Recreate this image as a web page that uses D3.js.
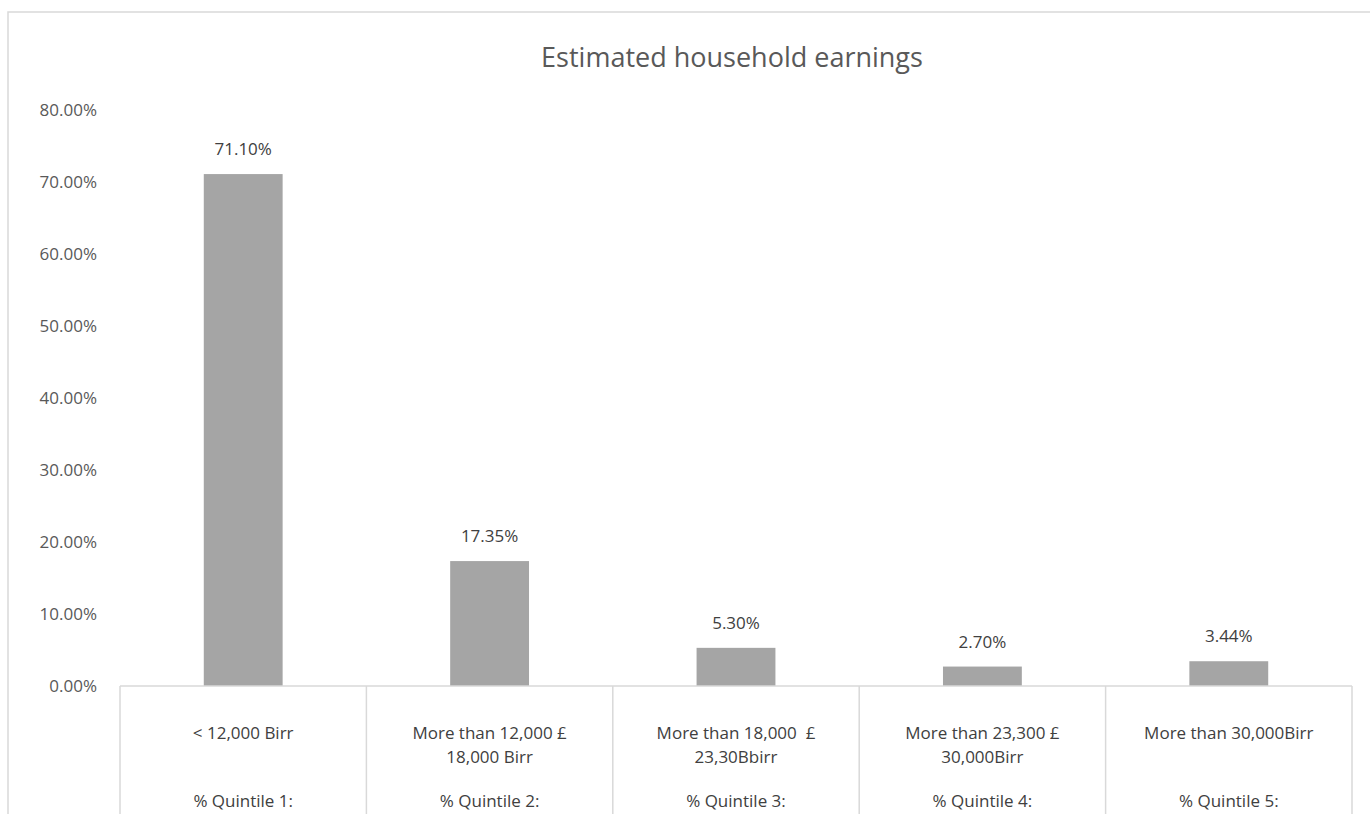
<!DOCTYPE html>
<html><head><meta charset="utf-8">
<script src="https://cdn.jsdelivr.net/npm/d3@7"></script>
<style>body{margin:0;background:#fff}svg{display:block}text{font-family:"Open Sans",sans-serif;white-space:pre}</style>
</head><body><svg id="c" width="1370" height="814"></svg>
<script>
const title = "Estimated household earnings";
const rangeLabels = [["< 12,000 Birr"],["More than 12,000 £","18,000 Birr"],["More than 18,000  £","23,30Bbirr"],["More than 23,300 £","30,000Birr"],["More than 30,000Birr"]];
const quintiles = ["% Quintile 1:","% Quintile 2:","% Quintile 3:","% Quintile 4:","% Quintile 5:"];
const values = [0.711, 0.1735, 0.053, 0.027, 0.0344];
const valueLabels = ["71.10%","17.35%","5.30%","2.70%","3.44%"];
const yTicks = [0,0.1,0.2,0.3,0.4,0.5,0.6,0.7,0.8];

const svg = d3.select("#c");
const L = 120, R = 1352, Y0 = 686, Ytop = 110;
svg.append("rect").attr("x",8).attr("y",12).attr("width",1400).attr("height",900)
  .attr("fill","none").attr("stroke","#D9D9D9").attr("stroke-width",1.5);
svg.append("text").attr("x",732).attr("y",67).attr("text-anchor","middle")
  .attr("font-size",27).attr("fill","#595959").text(title);

const x = d3.scaleBand().domain(d3.range(values.length)).range([L,R]).paddingInner(0.68).paddingOuter(0.34);
const y = d3.scaleLinear().domain([0,0.8]).range([Y0,Ytop]);

const yAxis = d3.axisLeft(y).tickValues(yTicks).tickFormat(d3.format(".2%")).tickSize(0).tickPadding(23);
const ga = svg.append("g").attr("transform",`translate(${L},0)`).call(yAxis);
ga.select(".domain").remove();
ga.selectAll("text").attr("font-size",17).attr("fill","#595959").attr("font-family","Open Sans");

svg.selectAll("rect.bar").data(values).join("rect").attr("class","bar")
  .attr("x",(d,i)=>x(i)).attr("width",x.bandwidth())
  .attr("y",d=>y(d)).attr("height",d=>Y0-y(d)).attr("fill","#A5A5A5");

svg.selectAll("text.vl").data(values).join("text").attr("class","vl")
  .attr("x",(d,i)=>x(i)+x.bandwidth()/2).attr("y",d=>y(d)-19)
  .attr("text-anchor","middle").attr("font-size",17).attr("fill","#404040")
  .text((d,i)=>valueLabels[i]);

svg.append("line").attr("x1",L).attr("x2",R).attr("y1",Y0).attr("y2",Y0).attr("stroke","#D9D9D9").attr("stroke-width",1.5);
const step = x.step();
const seps = d3.range(values.length+1).map(i=>L+i*step);
svg.selectAll("line.sep").data(seps).join("line").attr("class","sep")
  .attr("x1",d=>d).attr("x2",d=>d).attr("y1",Y0).attr("y2",814).attr("stroke","#D9D9D9").attr("stroke-width",1.5);

rangeLabels.forEach((lines,i)=>{
  const cx = x(i)+x.bandwidth()/2;
  lines.forEach((t,j)=>{
    svg.append("text").attr("x",cx).attr("y",739+j*24).attr("text-anchor","middle")
      .attr("font-size",17).attr("fill","#404040").text(t);
  });
  svg.append("text").attr("x",cx).attr("y",807).attr("text-anchor","middle")
    .attr("font-size",17).attr("fill","#404040").text(quintiles[i]);
});
</script></body></html>
